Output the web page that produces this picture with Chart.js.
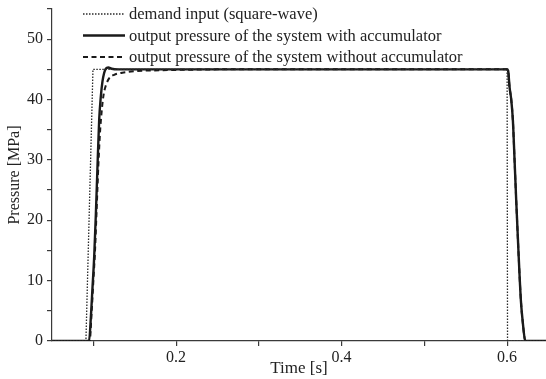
<!DOCTYPE html>
<html>
<head>
<meta charset="utf-8">
<script src="https://cdn.jsdelivr.net/npm/chart.js@4"></script>
<style>
  html, body { margin: 0; padding: 0; background: #ffffff; }
  #box { width: 546px; height: 379px; }
</style>
</head>
<body>
<div id="box"><canvas id="pressureChart" width="546" height="379"></canvas></div>
<script>
// valores (tiempo en s, presion en MPa)
const demandTime = [0.05, 0.091, 0.0995, 0.6, 0.6005, 0.647];
const demandPressure = [0, 0, 45, 45, 0, 0];

const accTime = [0.05, 0.0948, 0.097, 0.099, 0.101, 0.103, 0.105, 0.107, 0.109, 0.111, 0.113, 0.115, 0.118, 0.122, 0.13,
    0.6, 0.6012, 0.603, 0.605, 0.607, 0.609, 0.611, 0.614, 0.6167, 0.619, 0.622, 0.647];
const accPressure = [0, 0, 4, 9, 14, 21, 29, 36.6, 40.5, 43, 44.4, 45.1, 45.3, 45.1, 45,
    45, 44.8, 42, 40, 36.5, 30, 23.3, 14, 6.6, 3, 0, 0];

const noAccTime = [0.05, 0.0955, 0.098, 0.1, 0.102, 0.104, 0.106, 0.108, 0.11, 0.112, 0.115, 0.119, 0.125, 0.135, 0.15, 0.18, 0.22, 0.25,
    0.6, 0.6012, 0.603, 0.605, 0.607, 0.609, 0.611, 0.614, 0.6167, 0.619, 0.622, 0.647];
const noAccPressure = [0, 0, 5, 10, 15, 22, 29, 34.5, 38, 40.5, 42.3, 43.5, 44.1, 44.45, 44.7, 44.85, 44.95, 45,
    45, 44.8, 42, 40, 36.5, 30, 23.3, 14, 6.6, 3, 0, 0];

const seriesLabels = [
    'demand input (square-wave)',
    'output pressure of the system with accumulator',
    'output pressure of the system without accumulator'
];

const xTickValues = [0.1, 0.2, 0.3, 0.4, 0.5, 0.6];
const xTickLabels = ['', '0.2', '', '0.4', '', '0.6'];
const yTickValues = [0, 5, 10, 15, 20, 25, 30, 35, 40, 45, 50, 55];
const yTickLabels = ['0', '', '10', '', '20', '', '30', '', '40', '', '50', ''];

const toPoints = (xs, ys) => xs.map((x, i) => ({ x: x, y: ys[i] }));

const axisColor = '#3a3a3a';
const textColor = '#222222';
const serif = "'Liberation Serif', 'DejaVu Serif', serif";

// leyenda dibujada dentro del area del grafico
const insideLegend = {
    id: 'insideLegend',
    afterDraw(chart) {
        const ctx = chart.ctx;
        const x0 = 83, x1 = 125, tx = 129;
        const rows = [14, 35.5, 57];
        ctx.save();
        chart.data.datasets.forEach((ds, i) => {
            ctx.beginPath();
            ctx.setLineDash(ds.borderDash || []);
            ctx.lineWidth = ds.borderWidth;
            ctx.strokeStyle = ds.borderColor;
            ctx.moveTo(x0, rows[i]);
            ctx.lineTo(x1, rows[i]);
            ctx.stroke();
            ctx.setLineDash([]);
            ctx.fillStyle = textColor;
            ctx.font = "16.5px " + serif;
            ctx.textBaseline = 'middle';
            ctx.fillText(ds.label, tx, rows[i] + 1);
        });
        ctx.restore();
    }
};

new Chart('pressureChart', {
    type: 'line',
    data: {
        datasets: [{
            label: seriesLabels[0],
            data: toPoints(demandTime, demandPressure),
            borderColor: '#2a2a2a',
            borderWidth: 1.3,
            borderDash: [1.5, 1.5],
            pointRadius: 0,
            tension: 0,
        }, {
            label: seriesLabels[1],
            data: toPoints(accTime, accPressure),
            borderColor: '#1a1a1a',
            borderWidth: 2.4,
            pointRadius: 0,
            cubicInterpolationMode: 'monotone',
        }, {
            label: seriesLabels[2],
            data: toPoints(noAccTime, noAccPressure),
            borderColor: '#1a1a1a',
            borderWidth: 2,
            borderDash: [5, 3.5],
            pointRadius: 0,
            cubicInterpolationMode: 'monotone',
        }]
    },
    options: {
        responsive: false,
        animation: false,
        layout: { padding: { top: 9, right: 0, left: 0, bottom: 0 } },
        plugins: {
            legend: { display: false },
            tooltip: { enabled: false },
        },
        scales: {
            x: {
                type: 'linear',
                min: 0.05,
                max: 0.647,
                afterBuildTicks: scale => { scale.ticks = xTickValues.map(v => ({ value: v })) },
                afterFit: scale => { scale.height = 38 },
                ticks: {
                    callback: (v, i) => xTickLabels[i],
                    autoSkip: false,
                    maxRotation: 0,
                    padding: 2,
                    color: textColor,
                    font: { family: serif, size: 16 },
                },
                grid: { display: true, drawOnChartArea: false, drawTicks: true, tickLength: 5, color: axisColor, lineWidth: 1.2 },
                border: { display: true, color: axisColor, width: 1.2 },
                title: {
                    display: true,
                    text: 'Time [s]',
                    color: textColor,
                    font: { family: serif, size: 17 },
                    padding: { top: 0, bottom: 0 },
                },
            },
            y: {
                type: 'linear',
                min: 0,
                max: 55,
                afterBuildTicks: scale => { scale.ticks = yTickValues.map(v => ({ value: v })) },
                afterFit: scale => {
                    scale.width = 52
                    scale.paddingTop = 0
                    scale.paddingBottom = 0
                },
                ticks: {
                    callback: (v, i) => yTickLabels[i],
                    autoSkip: false,
                    padding: 4,
                    color: textColor,
                    font: { family: serif, size: 16 },
                },
                grid: { display: true, drawOnChartArea: false, drawTicks: true, tickLength: 5, color: axisColor, lineWidth: 1.2 },
                border: { display: true, color: axisColor, width: 1.2 },
                title: {
                    display: true,
                    text: 'Pressure [MPa]',
                    color: textColor,
                    font: { family: serif, size: 16 },
                    padding: { top: 5, bottom: 0 },
                },
            },
        },
    },
    plugins: [insideLegend],
});
</script>
</body>
</html>
